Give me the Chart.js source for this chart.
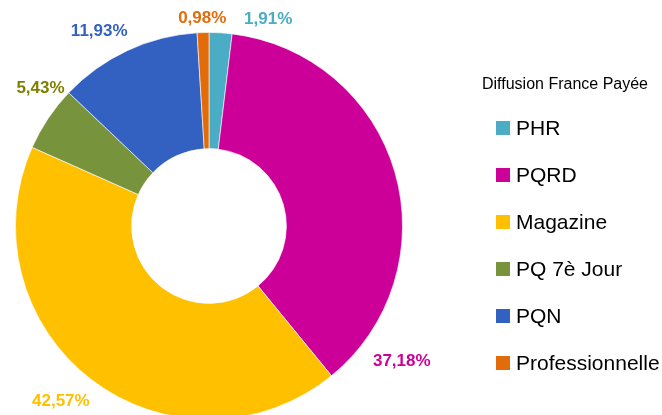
<!DOCTYPE html>
<html>
<head>
<meta charset="utf-8">
<script src="https://cdn.jsdelivr.net/npm/chart.js@4/dist/chart.umd.min.js"></script>
<style>
  html, body { margin: 0; padding: 0; background: #fff; overflow: hidden; }
  #wrap { position: relative; width: 662px; height: 415px; overflow: hidden; }
  #pie { position: absolute; left: 0; top: 0; }
  #legend { position: absolute; left: 470px; top: 72px; width: 192px; font-family: "Liberation Sans", Arial, sans-serif; color: #000; }
  #legend .title { font-size: 16px; text-align: center; width: 190px; margin-left: 0; height: 24px; line-height: 24px; }
  #legend .row { position: relative; height: 47px; }
  #legend .box { position: absolute; left: 26px; top: 25px; width: 14px; height: 14px; }
  #legend .txt { position: absolute; left: 46px; top: 18px; font-size: 21px; line-height: 28px; white-space: nowrap; }
</style>
</head>
<body>
<div id="wrap">
  <canvas id="pie" width="662" height="430"></canvas>
  <div id="legend"></div>
</div>
<script>
// Diffusion France Payée - share by category (%)
const categories = ['PHR', 'PQRD', 'Magazine', 'PQ 7è Jour', 'PQN', 'Professionnelle'];
const shares = [1.91, 37.18, 42.57, 5.43, 11.93, 0.98];
const legendTitle = 'Diffusion France Payée';

const sliceColors = ['#4BACC6', '#CC0099', '#FFC000', '#77933C', '#3361C2', '#E36C0A'];
const labelColors = ['#4BACC6', '#CC0099', '#FFC000', '#7F7F00', '#3361C2', '#E36C0A'];

function fmt(v) { return v.toFixed(2).replace('.', ',') + '%'; }

// percentage labels outside the ring, nudged like the original
const outLabels = {
  id: 'outLabels',
  afterDatasetsDraw(chart, args, opts) {
    const ctx = chart.ctx;
    const meta = chart.getDatasetMeta(0);
    ctx.save();
    ctx.font = 'bold 17px "Liberation Sans", Arial, sans-serif';
    ctx.textAlign = 'center';
    ctx.textBaseline = 'middle';
    meta.data.forEach((arc, i) => {
      const p = arc.getProps(['x', 'y', 'startAngle', 'endAngle', 'outerRadius'], true);
      const mid = (p.startAngle + p.endAngle) / 2;
      const r = p.outerRadius + opts.gap;
      const n = opts.nudge[i];
      ctx.fillStyle = labelColors[i];
      ctx.fillText(fmt(shares[i]), p.x + Math.cos(mid) * r + n[0], p.y + Math.sin(mid) * r + n[1]);
    });
    ctx.restore();
  }
};

const ctx = document.getElementById('pie').getContext('2d');
const pieChart = new Chart(ctx, {
  type: 'doughnut',
  data: {
    labels: categories,
    datasets: [{
      data: shares,
      backgroundColor: sliceColors,
      borderColor: 'rgba(255,255,255,0.6)',
      borderWidth: 1
    }]
  },
  options: {
    responsive: false,
    animation: false,
    events: [],
    cutout: '40%',
    layout: { padding: { left: 15, right: 259, top: 32, bottom: 10 } },
    plugins: {
      legend: { display: false },
      tooltip: { enabled: false },
      outLabels: {
        gap: 26,
        nudge: [[46, 12], [-18, 197], [-15, 1], [14, -16], [-17, 4], [0, 12]]
      }
    }
  },
  plugins: [outLabels]
});

// legend
const lg = document.getElementById('legend');
let html = '<div class="title">' + legendTitle + '</div>';
categories.forEach((c, i) => {
  html += '<div class="row"><div class="box" style="background:' + sliceColors[i] + '"></div><div class="txt">' + c + '</div></div>';
});
lg.innerHTML = html;
</script>
</body>
</html>
